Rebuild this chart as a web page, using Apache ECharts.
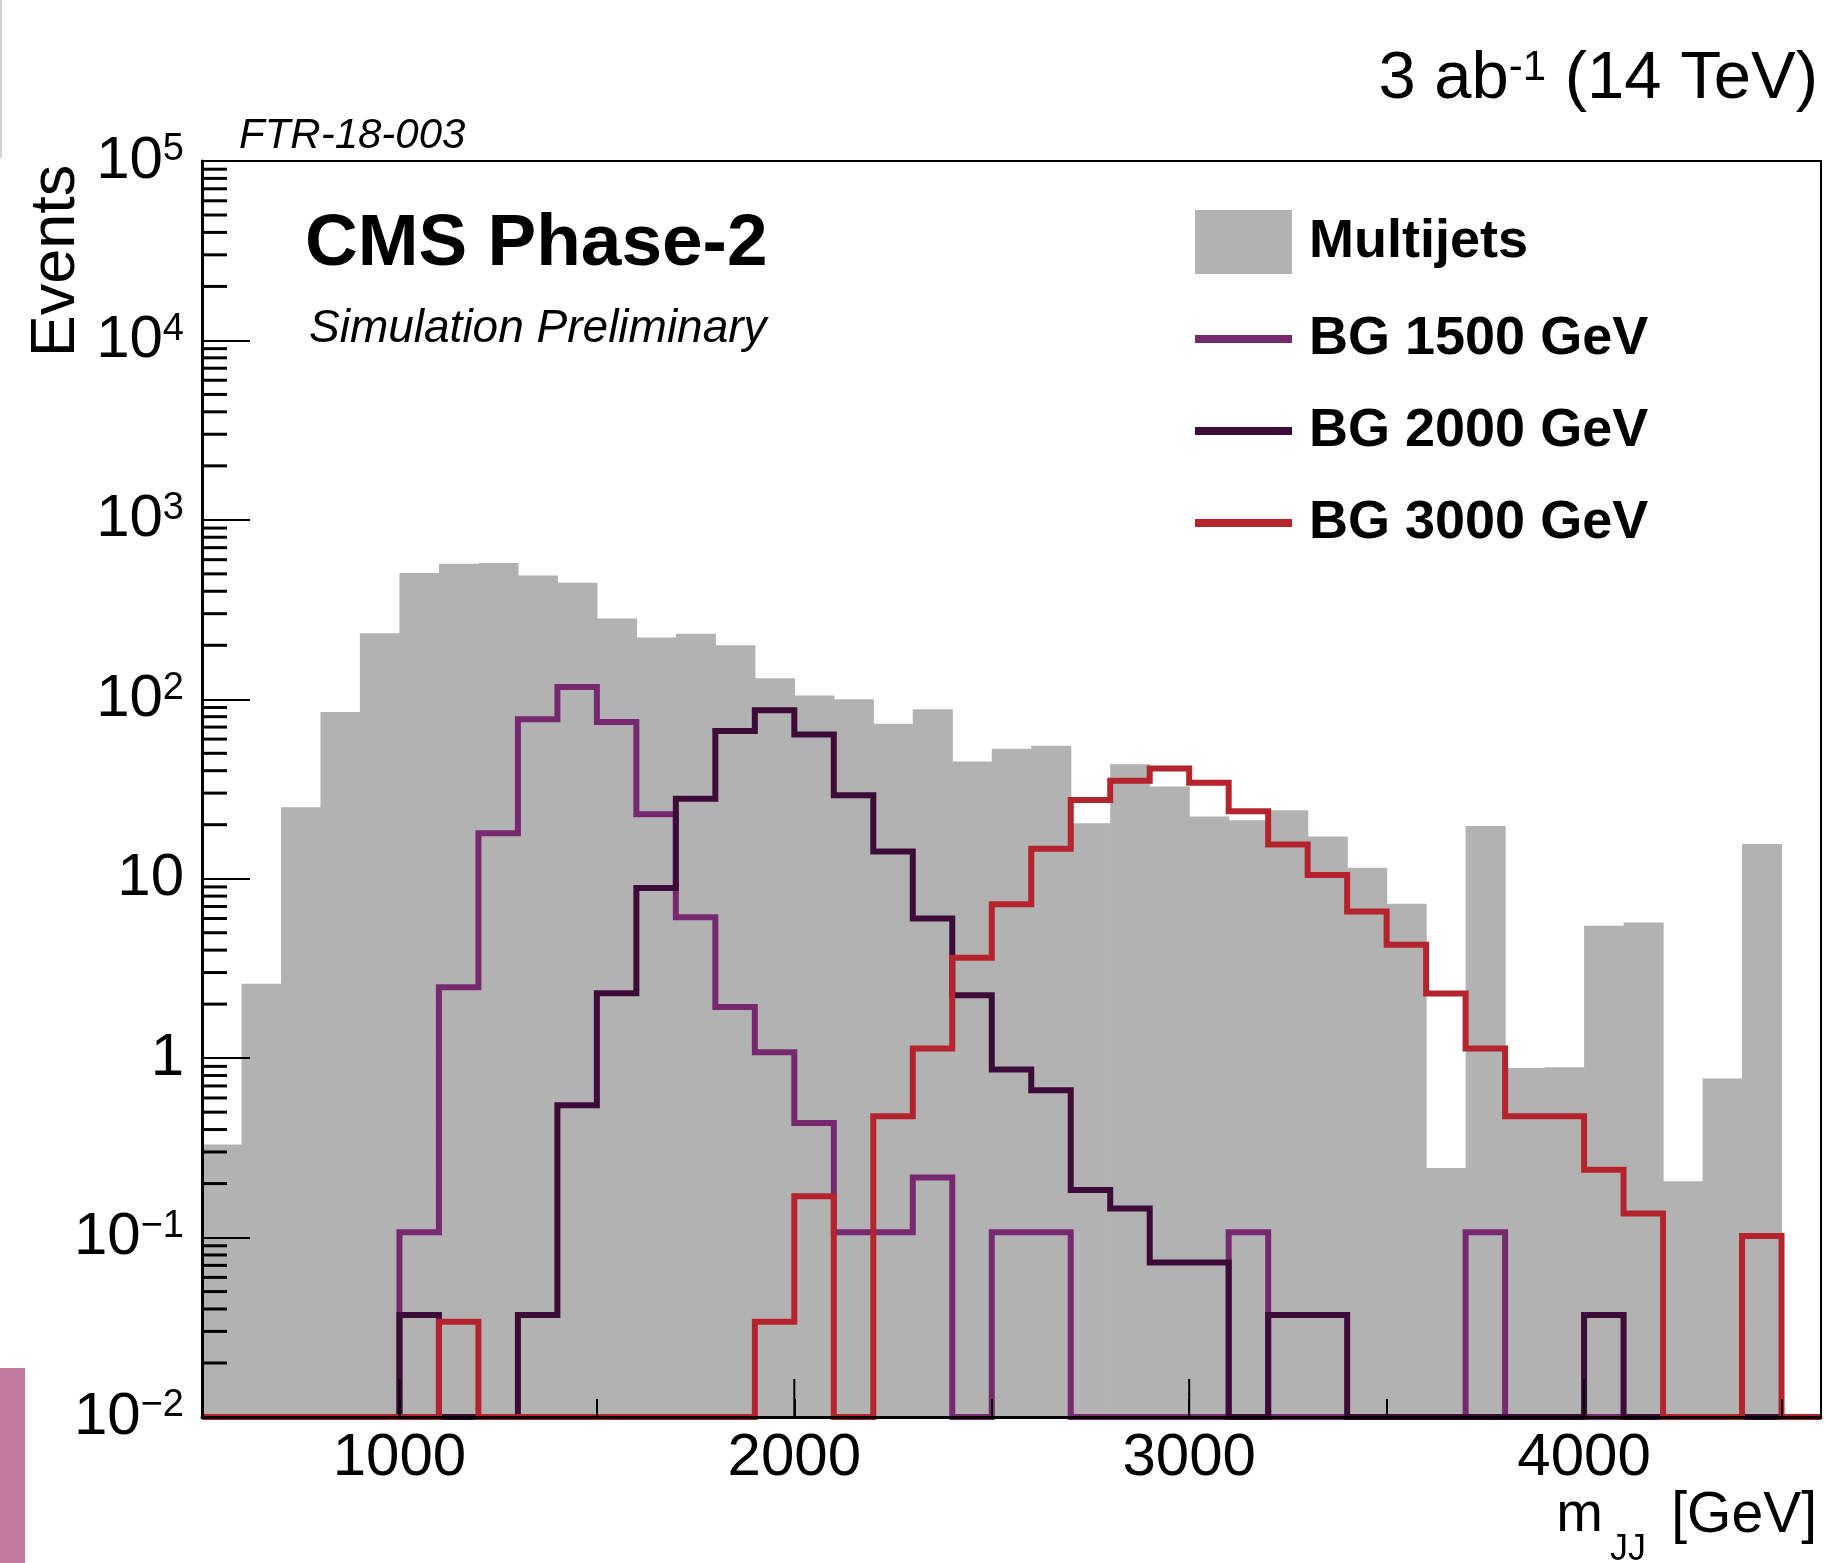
<!DOCTYPE html>
<html>
<head>
<meta charset="utf-8">
<title>m_JJ distribution - CMS Phase-2</title>
<script src="https://cdn.jsdelivr.net/npm/echarts@6.0.0/dist/echarts.min.js"></script>
<style>
  html, body { margin: 0; padding: 0; background: #fff; }
  #chart { width: 1826px; height: 1563px; }
</style>
</head>
<body>
<div id="chart"></div>
<script>
// bin edges of the m_JJ histogram (GeV), 100 GeV bins
var binEdges = [500, 600, 700, 800, 900, 1000, 1100, 1200, 1300, 1400, 1500, 1600, 1700, 1800,
  1900, 2000, 2100, 2200, 2300, 2400, 2500, 2600, 2700, 2800, 2900, 3000, 3100, 3200, 3300,
  3400, 3500, 3600, 3700, 3800, 3900, 4000, 4100, 4200, 4300, 4400, 4500, 4600];

// events per bin (0 = empty bin)
var multijets = [0.33, 2.6, 25, 85, 233, 505, 569, 574, 489, 446, 282, 221, 232, 200, 131,
  105, 100, 73, 88, 45, 53, 55, 20.4, 43.5, 32.7, 22.2, 21.2, 24.1, 17.2, 11.5, 7.25, 0.244,
  19.7, 0.88, 0.89, 5.46, 5.7, 0.206, 0.77, 15.6, 0];
var bg1500 = [0, 0, 0, 0, 0, 0.107, 2.48, 17.9, 77.5, 117, 74.7, 22.9, 6.1, 1.93, 1.08,
  0.435, 0.107, 0.107, 0.216, 0, 0.107, 0.107, 0, 0, 0, 0, 0.107, 0, 0, 0, 0, 0, 0.107,
  0, 0, 0, 0, 0, 0, 0, 0];
var bg2000 = [0, 0, 0, 0, 0, 0.037, 0, 0, 0.037, 0.547, 2.3, 8.87, 27.9, 66.6, 86.9, 63.6,
  29.2, 14.2, 6.0, 2.24, 0.865, 0.663, 0.184, 0.145, 0.0726, 0.0726, 0, 0.037, 0.037,
  0, 0, 0, 0, 0, 0, 0.037, 0, 0, 0, 0, 0];
var bg3000 = [0, 0, 0, 0, 0, 0, 0.034, 0, 0, 0, 0, 0, 0, 0, 0.034, 0.17, 0, 0.474, 1.13,
  3.63, 7.2, 14.7, 27.5, 35.1, 41.2, 34.3, 23.8, 15.5, 10.5, 6.56, 4.28, 2.29, 1.13, 0.474,
  0.474, 0.239, 0.136, 0, 0, 0.102, 0];

// axis ticks
var yMin = 0.01;
var yMax = 100000;
var xMajorTicks = [1000, 2000, 3000, 4000];
var minorMult = [2, 3, 4, 5, 6, 7, 8, 9];
var decades = [0.01, 0.1, 1, 10, 100, 1000, 10000];

var FONT = 'Liberation Sans, Arial, Helvetica, sans-serif';
var GREY = '#b2b2b2';
var COL1500 = '#77296f';
var COL2000 = '#3d0b38';
var COL3000 = '#b5242c';
var lineIcon = 'path://M0,0H100V8H0Z';

var yMinorTicks = [];
decades.forEach(function (d) {
  minorMult.forEach(function (m) { yMinorTicks.push(m * d); });
});

// outline of a histogram: value at every left edge + closing point at the last edge
// empty bins sit on the bottom of the log axis, like ROOT does
function stepPoints(vals) {
  var pts = [];
  for (var i = 0; i < vals.length; i++) {
    pts.push([binEdges[i], Math.max(vals[i], yMin)]);
  }
  pts.push([binEdges[vals.length], Math.max(vals[vals.length - 1], yMin)]);
  return pts;
}

function barItems(vals) {
  return vals.map(function (v, i) { return [binEdges[i], binEdges[i + 1], v]; });
}

function powLabel(v) {
  var e = Math.round(Math.log10(v));
  if (e === 0) return '{b|1}';
  if (e === 1) return '{b|10}';
  return '{b|10}{s|' + (e < 0 ? '\u2212' + (-e) : e) + '}';
}

function stepLine(name, vals, color) {
  return {
    name: name,
    type: 'line',
    step: 'end',
    data: stepPoints(vals),
    symbol: 'none',
    clip: false,
    silent: true,
    z: 3,
    itemStyle: { color: color },
    lineStyle: { color: color, width: 6, join: 'miter' }
  };
}

var chart = echarts.init(document.getElementById('chart'), null, { renderer: 'canvas' });

var option = {
  backgroundColor: '#fff',
  animation: false,
  textStyle: { fontFamily: FONT },
  grid: {
    left: 202, right: 5, top: 161, bottom: 146,
    show: true, borderColor: '#000', borderWidth: 2,
    backgroundColor: 'transparent',
    containLabel: false,
    outerBoundsMode: 'none'
  },
  legend: {
    orient: 'vertical',
    left: 1195,
    top: 210,
    padding: 0,
    itemWidth: 97,
    itemHeight: 64,
    itemGap: 38,
    selectedMode: false,
    textStyle: { fontFamily: FONT, fontSize: 54, fontWeight: 'bold', color: '#000', padding: [0, 0, 0, 12] },
    data: [
      { name: 'Multijets', icon: 'rect' },
      { name: 'BG 1500 GeV', icon: lineIcon },
      { name: 'BG 2000 GeV', icon: lineIcon },
      { name: 'BG 3000 GeV', icon: lineIcon }
    ]
  },
  xAxis: {
    type: 'value',
    min: 500,
    max: 4600,
    interval: 500,
    z: 5,
    axisLine: { lineStyle: { color: '#000', width: 3 } },
    axisTick: { inside: true, length: 18, lineStyle: { color: '#000', width: 2 } },
    splitLine: { show: false },
    axisLabel: {
      margin: 11,
      fontSize: 60,
      color: '#000',
      fontFamily: FONT,
      formatter: function (v) { return v % 1000 === 0 ? String(v) : ''; }
    }
  },
  yAxis: {
    type: 'log',
    logBase: 10,
    min: yMin,
    max: yMax,
    interval: 1,
    z: 5,
    axisLine: { lineStyle: { color: '#000', width: 3 } },
    axisTick: { inside: true, length: 48, lineStyle: { color: '#000', width: 2 } },
    splitLine: { show: false },
    axisLabel: {
      margin: 18,
      color: '#000',
      formatter: powLabel,
      rich: {
        b: { fontSize: 60, fontFamily: FONT, color: '#000', lineHeight: 60 },
        s: { fontSize: 38, fontFamily: FONT, color: '#000', lineHeight: 12, verticalAlign: 'top' }
      }
    }
  },
  graphic: [
    { type: 'rect', x: 0, y: 0, shape: { width: 2, height: 158 }, style: { fill: '#d4d4d4' }, silent: true },
    { type: 'rect', x: 0, y: 1368, shape: { width: 25, height: 195 }, style: { fill: '#c27ba0' }, silent: true },
    {
      type: 'text', x: 1818, y: 80,
      style: {
        text: '{a|3 ab}{s|-1}{a| (14 TeV)}', align: 'right', verticalAlign: 'middle', fill: '#000',
        rich: {
          a: { fontSize: 67, fontFamily: FONT, fill: '#000', lineHeight: 66 },
          s: { fontSize: 42, fontFamily: FONT, fill: '#000', lineHeight: 12, verticalAlign: 'top' }
        }
      }
    },
    {
      type: 'text', x: 239, y: 136,
      style: { text: 'FTR-18-003', fontSize: 42, fontStyle: 'italic', fontFamily: FONT, fill: '#000', verticalAlign: 'middle' }
    },
    {
      type: 'text', x: 305, y: 245,
      style: { text: 'CMS Phase-2', fontSize: 73, fontWeight: 'bold', fontFamily: FONT, fill: '#000', verticalAlign: 'middle' }
    },
    {
      type: 'text', x: 309, y: 329,
      style: { text: 'Simulation Preliminary', fontSize: 46, fontStyle: 'italic', fontFamily: FONT, fill: '#000', verticalAlign: 'middle' }
    },
    {
      type: 'text', x: 57, y: 261, rotation: Math.PI / 2,
      style: { text: 'Events', fontSize: 63, fontFamily: FONT, fill: '#000', align: 'center', verticalAlign: 'middle' }
    },
    {
      type: 'text', x: 1817, y: 1516,
      style: { text: '[GeV]', fontSize: 57, fontFamily: FONT, fill: '#000', align: 'right', verticalAlign: 'middle' }
    },
    {
      type: 'text', x: 1646, y: 1550,
      style: { text: 'JJ', fontSize: 36, fontFamily: FONT, fill: '#000', align: 'right', verticalAlign: 'middle' }
    },
    {
      type: 'text', x: 1603, y: 1516,
      style: { text: 'm', fontSize: 56, fontFamily: FONT, fill: '#000', align: 'right', verticalAlign: 'middle' }
    }
  ],
  series: [
    {
      name: 'Multijets',
      type: 'custom',
      silent: true,
      z: 2,
      itemStyle: { color: GREY },
      encode: { x: [0, 1], y: 2 },
      data: barItems(multijets),
      renderItem: function (params, api) {
        var v = api.value(2);
        if (!(v > 0)) return null;
        var p0 = api.coord([api.value(0), v]);
        var p1 = api.coord([api.value(1), yMin]);
        return {
          type: 'rect',
          shape: { x: p0[0], y: p0[1], width: p1[0] - p0[0] + 0.6, height: p1[1] - p0[1] },
          style: { fill: GREY }
        };
      }
    },
    stepLine('BG 1500 GeV', bg1500, COL1500),
    stepLine('BG 2000 GeV', bg2000, COL2000),
    stepLine('BG 3000 GeV', bg3000, COL3000),
    {
      // small log ticks on the y axis (2..9 x 10^n)
      type: 'custom',
      silent: true,
      z: 6,
      encode: { x: 0, y: 1 },
      data: yMinorTicks.map(function (v) { return [binEdges[0], v]; }),
      renderItem: function (params, api) {
        var p = api.coord([api.value(0), api.value(1)]);
        return {
          type: 'line',
          shape: { x1: p[0], y1: p[1], x2: p[0] + 25, y2: p[1] },
          style: { stroke: '#000', lineWidth: 3 }
        };
      }
    },
    {
      // long ticks at the labelled x values
      type: 'custom',
      silent: true,
      z: 6,
      encode: { x: 0, y: 1 },
      data: xMajorTicks.map(function (v) { return [v, yMin]; }),
      renderItem: function (params, api) {
        var p = api.coord([api.value(0), api.value(1)]);
        return {
          type: 'line',
          shape: { x1: p[0], y1: p[1], x2: p[0], y2: p[1] - 38 },
          style: { stroke: '#000', lineWidth: 2 }
        };
      }
    }
  ]
};

chart.setOption(option);
</script>
</body>
</html>
